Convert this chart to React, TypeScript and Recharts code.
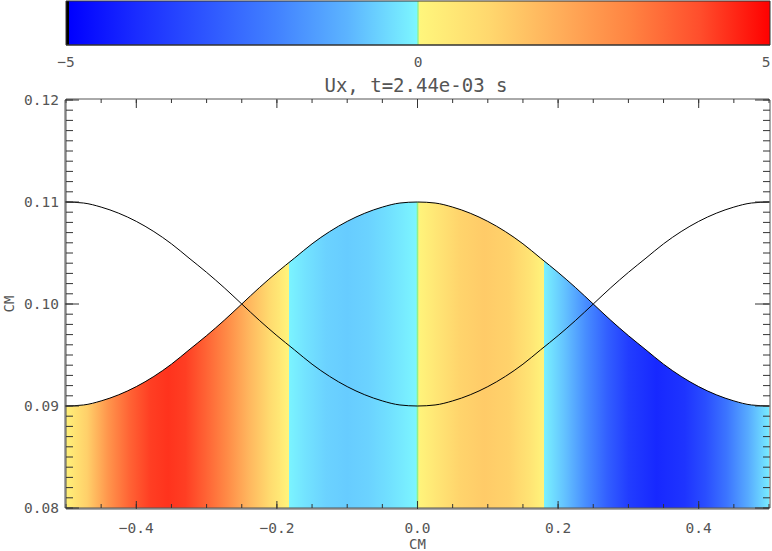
import React from 'react';
import { ComposedChart, Area, Line, XAxis, YAxis, ReferenceArea } from 'recharts';

// ---- data ----
const xPositions = [
  -0.5, -0.475, -0.45, -0.425, -0.4, -0.375, -0.35, -0.325, -0.3, -0.275, -0.25,
  -0.225, -0.2, -0.175, -0.15, -0.125, -0.1, -0.075, -0.05, -0.025, 0,
  0.025, 0.05, 0.075, 0.1, 0.125, 0.15, 0.175, 0.2, 0.225, 0.25,
  0.275, 0.3, 0.325, 0.35, 0.375, 0.4, 0.425, 0.45, 0.475, 0.5,
];
const upperSurface = [
  0.09, 0.0901, 0.0905, 0.0911, 0.0919, 0.0929, 0.0941, 0.0955, 0.0969, 0.0984, 0.1,
  0.1016, 0.1031, 0.1045, 0.1059, 0.1071, 0.1081, 0.1089, 0.1095, 0.1099, 0.11,
  0.1099, 0.1095, 0.1089, 0.1081, 0.1071, 0.1059, 0.1045, 0.1031, 0.1016, 0.1,
  0.0984, 0.0969, 0.0955, 0.0941, 0.0929, 0.0919, 0.0911, 0.0905, 0.0901, 0.09,
];
const lowerSurface = [
  0.11, 0.1099, 0.1095, 0.1089, 0.1081, 0.1071, 0.1059, 0.1045, 0.1031, 0.1016, 0.1,
  0.0984, 0.0969, 0.0955, 0.0941, 0.0929, 0.0919, 0.0911, 0.0905, 0.0901, 0.09,
  0.0901, 0.0905, 0.0911, 0.0919, 0.0929, 0.0941, 0.0955, 0.0969, 0.0984, 0.1,
  0.1016, 0.1031, 0.1045, 0.1059, 0.1071, 0.1081, 0.1089, 0.1095, 0.1099, 0.11,
];

// Ux field sampled along x (value in colour-bar units)
const uxX = [
  -0.5, -0.47, -0.44, -0.41, -0.38, -0.355, -0.33, -0.3, -0.27, -0.24, -0.21, -0.183,
  -0.183, -0.16, -0.13, -0.1, -0.07, -0.04, -0.002, 0, 0.002, 0.03, 0.06, 0.095, 0.13, 0.16, 0.18,
  0.18, 0.21, 0.24, 0.27, 0.3, 0.34, 0.38, 0.41, 0.44, 0.47, 0.5,
];
const uxValues = [
  0.2, 1.2, 2.6, 3.6, 4.2, 4.35, 4.2, 3.6, 2.8, 1.8, 0.9, 0.1,
  -0.05, -0.3, -0.55, -0.65, -0.55, -0.35, -0.03, 0, 0.1, 0.6, 1.1, 1.3, 1.15, 0.6, 0.1,
  -0.1, -0.8, -1.8, -2.8, -3.6, -4.1, -3.8, -3.2, -2.3, -1.2, -0.2,
];

// colour table of the colour bar
const cmapValues = [-5, -4, -3, -2, -1, -0.02, 0, 0.02, 1, 2, 3, 4, 5];
const cmapColors = [
  '#0000ff', '#1a2cff', '#2e56ff', '#4282ff', '#5cb4ff', '#7cf6ff', '#90f088',
  '#fff67c', '#ffd86e', '#ffae5a', '#ff8442', '#ff4e2c', '#ff0000',
];

const cbarTicks = [-5, 0, 5];
const xMajorTicks = [-0.4, -0.2, 0, 0.2, 0.4];
const xMinorTicks = [-0.5, -0.45, -0.4, -0.35, -0.3, -0.25, -0.2, -0.15, -0.1, -0.05, 0, 0.05, 0.1, 0.15, 0.2, 0.25, 0.3, 0.35, 0.4, 0.45, 0.5];
const yMajorTicks = [0.08, 0.09, 0.1, 0.11, 0.12];
const yMinorTicks = Array.from({ length: 41 }, (_, i) => Number((0.08 + i * 0.001).toFixed(3)));

const titleText = 'Ux, t=2.44e-03 s';
const axisTitle = 'CM';

// ---- helpers ----
const hexToRgb = (h: string) => [1, 3, 5].map((i) => parseInt(h.slice(i, i + 2), 16));
const cmap = (v: number) => {
  let i = 0;
  while (i < cmapValues.length - 2 && v > cmapValues[i + 1]) i++;
  const a = cmapValues[i];
  const b = cmapValues[i + 1];
  const t = Math.max(0, Math.min(1, (v - a) / (b - a)));
  const ca = hexToRgb(cmapColors[i]);
  const cb = hexToRgb(cmapColors[i + 1]);
  const c = ca.map((x, k) => Math.round(x + (cb[k] - x) * t));
  return `rgb(${c[0]},${c[1]},${c[2]})`;
};
const fmt = (v: number) => String(v).replace('-', '\u2212');
const fmtX = (v: number) => (v === 0 ? '0.0' : fmt(v));
const fmtY = (v: number) => v.toFixed(2);

const mainData = xPositions.map((x, i) => ({ x, upper: upperSurface[i], lower: lowerSurface[i] }));
const cbarData = [
  { v: -5, h: 1 },
  { v: 5, h: 1 },
];

const FONT = 'DejaVu Sans Mono';
const tickStyle = { fontFamily: FONT, fontSize: 14.5, fill: '#555' };
const NoTick = () => <g />;

// colour-bar tick label, kept inside the page at the right edge
const CbarTick = (props: any) => {
  const { x, y, payload } = props;
  const tx = Math.min(x, 772 - 6);
  return (
    <text x={tx} y={y} dy="0.71em" textAnchor="middle" style={tickStyle}>
      {fmt(payload.value)}
    </text>
  );
};

const YLabel = (props: any) => {
  const vb = props.viewBox || {};
  const cx = 9;
  const cy = (vb.y ?? 100) + (vb.height ?? 408) / 2;
  return (
    <text
      x={cx}
      y={cy}
      transform={`rotate(-90, ${cx}, ${cy})`}
      textAnchor="middle"
      dominantBaseline="central"
      style={{ fontFamily: FONT, fontSize: 14, fill: '#555' }}
    >
      {axisTitle}
    </text>
  );
};

export default function App() {
  return (
    <div
      style={{
        position: 'absolute',
        left: 0,
        top: 0,
        width: 772,
        height: 551,
        background: '#fff',
        overflow: 'hidden',
      }}
    >
      {/* colour bar */}
      <div style={{ position: 'absolute', left: 0, top: 0 }}>
        <ComposedChart width={772} height={80} data={cbarData} margin={{ top: 1, right: 2, left: 66, bottom: 34 }}>
          <defs>
            <linearGradient id="cbarGrad" x1="0" y1="0" x2="1" y2="0">
              <stop offset={0} stopColor="#000" />
              <stop offset={0.004} stopColor="#000" />
              <stop offset={0.0045} stopColor={cmapColors[0]} />
              {cmapValues.map((v, i) => (
                <stop key={i} offset={Math.max(0.0045, (v + 5) / 10)} stopColor={cmapColors[i]} />
              ))}
            </linearGradient>
          </defs>
          <XAxis
            dataKey="v"
            type="number"
            domain={[-5, 5]}
            ticks={cbarTicks}
            interval={0}
            height={1}
            tickSize={0}
            tickMargin={12}
            tick={CbarTick}
            axisLine={{ stroke: '#333' }}
          />
          <YAxis hide domain={[0, 1]} />
          <Area
            dataKey="h"
            type="linear"
            baseValue={0}
            stroke="none"
            fill="url(#cbarGrad)"
            fillOpacity={1}
            isAnimationActive={false}
          />
          <ReferenceArea x1={-5} x2={5} y1={0} y2={1} fill="none" stroke="#333" strokeWidth={1} />
        </ComposedChart>
      </div>

      {/* title */}
      <div
        style={{
          position: 'absolute',
          left: 266,
          top: 73,
          width: 300,
          textAlign: 'center',
          fontFamily: FONT,
          fontSize: 19,
          lineHeight: '24px',
          color: '#555',
          whiteSpace: 'pre',
        }}
      >
        {titleText}
      </div>

      {/* main plot */}
      <div style={{ position: 'absolute', left: 0, top: 0 }}>
        <ComposedChart width={772} height={551} data={mainData} margin={{ top: 98, right: 1, left: 64, bottom: 41 }}>
          <defs>
            <linearGradient id="uxGrad" x1="0" y1="0" x2="1" y2="0">
              {uxX.map((x, i) => (
                <stop key={i} offset={x + 0.5} stopColor={cmap(uxValues[i])} />
              ))}
            </linearGradient>
          </defs>
          <XAxis
            xAxisId="mi"
            type="number"
            dataKey="x"
            domain={[-0.5, 0.5]}
            allowDataOverflow
            ticks={xMinorTicks}
            interval={0}
            height={1}
            tickSize={-4}
            tick={NoTick}
            axisLine={{ stroke: '#555' }}
            tickLine={{ stroke: '#333' }}
          />
          <XAxis
            xAxisId="mt"
            orientation="top"
            type="number"
            dataKey="x"
            domain={[-0.5, 0.5]}
            allowDataOverflow
            ticks={xMinorTicks}
            interval={0}
            height={1}
            tickSize={-4}
            tick={NoTick}
            axisLine={{ stroke: '#555' }}
            tickLine={{ stroke: '#333' }}
          />
          <XAxis
            xAxisId="Mt"
            orientation="top"
            type="number"
            dataKey="x"
            domain={[-0.5, 0.5]}
            allowDataOverflow
            ticks={xMajorTicks}
            interval={0}
            height={1}
            tickSize={-8}
            tick={NoTick}
            axisLine={false}
            tickLine={{ stroke: '#333' }}
          />
          <XAxis
            xAxisId="x"
            type="number"
            dataKey="x"
            domain={[-0.5, 0.5]}
            allowDataOverflow
            ticks={xMajorTicks}
            interval={0}
            height={1}
            tickSize={-8}
            tickMargin={22}
            tickFormatter={fmtX}
            tick={tickStyle}
            axisLine={{ stroke: '#555' }}
            tickLine={{ stroke: '#333' }}
            label={{ value: axisTitle, position: 'bottom', offset: 29, style: { fontFamily: FONT, fontSize: 14, fill: '#555' } }}
          />
          <YAxis
            yAxisId="mi"
            type="number"
            domain={[0.08, 0.12]}
            allowDataOverflow
            ticks={yMinorTicks}
            interval={0}
            width={1}
            tickSize={-7}
            tick={NoTick}
            axisLine={{ stroke: '#555' }}
            tickLine={{ stroke: '#333' }}
          />
          <YAxis
            yAxisId="mr"
            orientation="right"
            type="number"
            domain={[0.08, 0.12]}
            allowDataOverflow
            ticks={yMinorTicks}
            interval={0}
            width={1}
            tickSize={-7}
            tick={NoTick}
            axisLine={{ stroke: '#555' }}
            tickLine={{ stroke: '#333' }}
          />
          <YAxis
            yAxisId="Mr"
            orientation="right"
            type="number"
            domain={[0.08, 0.12]}
            allowDataOverflow
            ticks={yMajorTicks}
            interval={0}
            width={1}
            tickSize={-14}
            tick={NoTick}
            axisLine={false}
            tickLine={{ stroke: '#333' }}
          />
          <YAxis
            yAxisId="y"
            type="number"
            domain={[0.08, 0.12]}
            allowDataOverflow
            ticks={yMajorTicks}
            interval={0}
            width={1}
            tickSize={-14}
            tickMargin={20}
            tickFormatter={fmtY}
            tick={tickStyle}
            axisLine={{ stroke: '#555' }}
            tickLine={{ stroke: '#333' }}
            label={{ content: YLabel }}
          />
          <Area
            xAxisId="x"
            yAxisId="y"
            dataKey="upper"
            type="monotone"
            stroke="#000"
            strokeWidth={1}
            fill="url(#uxGrad)"
            fillOpacity={1}
            dot={false}
            activeDot={false}
            isAnimationActive={false}
          />
          <Line
            xAxisId="x"
            yAxisId="y"
            dataKey="lower"
            type="monotone"
            stroke="#000"
            strokeWidth={1}
            dot={false}
            activeDot={false}
            isAnimationActive={false}
          />
        </ComposedChart>
      </div>
    </div>
  );
}
